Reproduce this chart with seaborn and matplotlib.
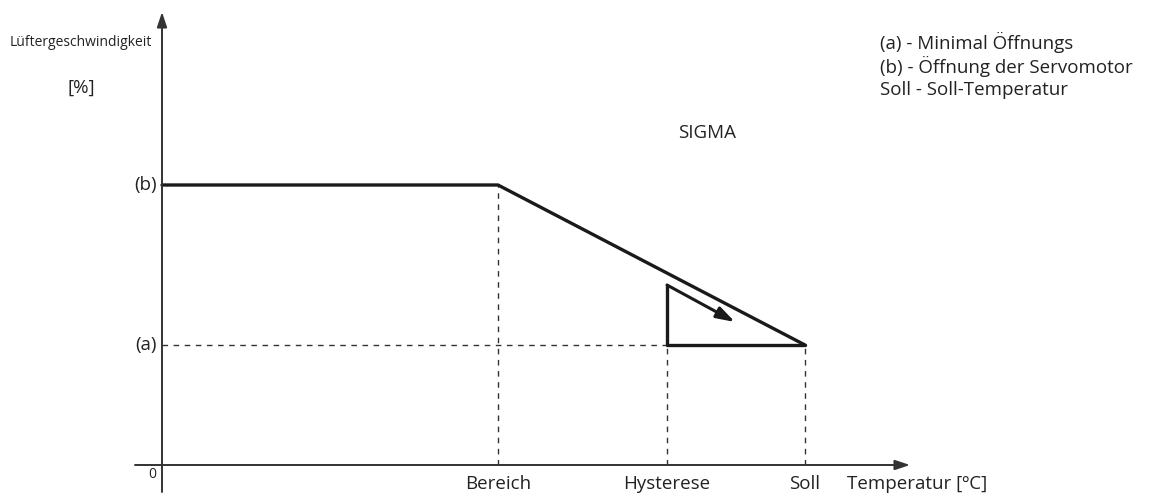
import matplotlib
matplotlib.use("Agg")
import matplotlib.pyplot as plt
import seaborn as sns
import pandas as pd

# ---- data (abstract units) ----
x_ticks = [3.36, 5.05, 6.43]
x_tick_labels = ["Bereich", "Hysterese", "Soll"]
y_levels = [1.2, 2.8]
y_level_labels = ["(a)", "(b)"]
curve_x = [0.0, 3.36, 6.43]
curve_y = [2.8, 2.8, 1.2]
tri_x = [5.05, 5.05, 6.43]
tri_y = [1.8, 1.2, 1.2]
arrow_start = (5.05, 1.8)
arrow_end = (5.73, 1.43)
legend_lines = ["(a) - Minimal Öffnungs", "(b) - Öffnung der Servomotor", "Soll - Soll-Temperatur"]

sns.set_style("white")
plt.rcParams['font.family'] = ['Open Sans', 'DejaVu Sans']

fig = plt.figure(figsize=(11.53, 4.97), dpi=100)
ax = fig.add_axes([0, 0, 1, 1])
ax.set_xlim(-1.62, 9.91)
ax.set_ylim(-0.32, 4.65)
ax.axis("off")

dark = "#1a1a1a"
axc = "#333333"

# axes arrows
ax.annotate("", xy=(7.48, 0), xytext=(-0.27, 0),
            arrowprops=dict(arrowstyle="-|>,head_length=0.9,head_width=0.3", color=axc, lw=1.4, shrinkA=0, shrinkB=0))
ax.annotate("", xy=(0, 4.53), xytext=(0, -0.27),
            arrowprops=dict(arrowstyle="-|>,head_length=0.9,head_width=0.3", color=axc, lw=1.4, shrinkA=0, shrinkB=0))

# dashed guides
guide_tops = [curve_y[1], y_levels[0], y_levels[0]]
for xv, yv in zip(x_ticks, guide_tops):
    ax.plot([xv, xv], [0, yv], ls=(0, (4, 4)), color=axc, lw=1.0)
ax.plot([0, x_ticks[1]], [y_levels[0], y_levels[0]], ls=(0, (4, 4)), color=axc, lw=1.0)

# main curve
df = pd.DataFrame({"x": curve_x, "y": curve_y})
sns.lineplot(data=df, x="x", y="y", ax=ax, color=dark, lw=2.4, sort=False, estimator=None)
df2 = pd.DataFrame({"x": tri_x, "y": tri_y})
sns.lineplot(data=df2, x="x", y="y", ax=ax, color=dark, lw=2.4, sort=False, estimator=None)
ax.annotate("", xy=arrow_end, xytext=arrow_start,
            arrowprops=dict(arrowstyle="-|>,head_length=1.1,head_width=0.35", color=dark, lw=2.2, shrinkA=0, shrinkB=0))

tc = "#222222"
fs = 13.5
# tick labels
for xv, lab in zip(x_ticks, x_tick_labels):
    ax.text(xv, -0.19, lab, ha="center", va="center", fontsize=fs, color=tc)
ax.text(6.85, -0.19, "Temperatur [ºC]", ha="left", va="center", fontsize=fs, color=tc)
for yv, lab in zip(y_levels, y_level_labels):
    ax.text(-0.05, yv, lab, ha="right", va="center", fontsize=fs, color=tc)
ax.text(-0.06, -0.1, "0", ha="right", va="center", fontsize=10, color=tc)

ax.text(-0.81, 4.22, "Lüftergeschwindigkeit", ha="center", va="center", fontsize=10, color=tc)
ax.text(-0.81, 3.77, "[%]", ha="center", va="center", fontsize=13.5, color=tc)
ax.text(5.45, 3.32, "SIGMA", ha="center", va="center", fontsize=fs, color=tc)

for i, line in enumerate(legend_lines):
    ax.text(7.18, 4.23 - i * 0.24, line, ha="left", va="center", fontsize=fs, color=tc)

fig.savefig("out.png", dpi=100)
